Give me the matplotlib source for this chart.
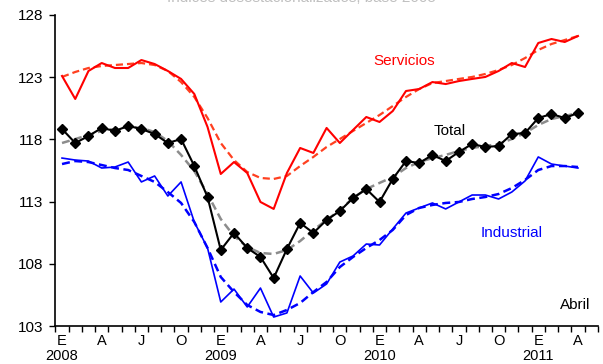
import numpy as np
import matplotlib
matplotlib.use("Agg")
import matplotlib.pyplot as plt

plt.rcParams['font.family'] = ['Liberation Sans', 'DejaVu Sans']

# monthly index, Jan 2008 .. Apr 2011
months = np.arange(40)
month_letters = ['E', 'A', 'J', 'O']
years = ['2008', '2009', '2010', '2011']

total = [118.84, 117.71, 118.27, 118.92, 118.68, 119.08, 118.84, 118.43, 117.71, 118.03,
         115.86, 113.37, 109.11, 110.48, 109.27, 108.55, 106.86, 109.19, 111.28, 110.48,
         111.52, 112.24, 113.29, 114.01, 112.97, 114.82, 116.26, 116.10, 116.75, 116.26,
         116.99, 117.63, 117.39, 117.47, 118.43, 118.51, 119.72, 120.04, 119.72, 120.12]
total_trend = [117.71, 118.03, 118.35, 118.68, 118.84, 119.00, 118.92, 118.59, 117.87, 116.75,
               115.46, 113.61, 111.60, 110.23, 109.35, 108.87, 108.79, 109.11, 109.83, 110.72,
               111.52, 112.32, 113.29, 114.01, 114.50, 114.98, 115.70, 116.18, 116.50, 116.75,
               117.07, 117.31, 117.47, 117.63, 118.03, 118.51, 119.16, 119.64, 119.88, 120.12]

servicios = [123.10, 121.25, 123.50, 124.14, 123.74, 123.74, 124.38, 124.06, 123.50, 122.86,
             121.65, 119.00, 115.22, 116.18, 115.30, 112.97, 112.41, 115.30, 117.31, 116.91,
             118.92, 117.71, 118.76, 119.80, 119.40, 120.28, 121.89, 122.05, 122.61, 122.45,
             122.69, 122.86, 123.02, 123.50, 124.14, 123.82, 125.75, 126.07, 125.83, 126.31]
servicios_trend = [123.02, 123.42, 123.74, 123.90, 123.98, 124.06, 124.14, 123.98, 123.50, 122.61,
                   121.41, 119.72, 117.71, 116.34, 115.38, 114.90, 114.82, 115.06, 115.86, 116.59,
                   117.39, 118.03, 118.68, 119.32, 119.96, 120.68, 121.41, 122.05, 122.53, 122.69,
                   122.86, 123.02, 123.26, 123.58, 123.98, 124.54, 125.19, 125.67, 125.99, 126.31]

industrial = [116.50, 116.34, 116.26, 115.70, 115.78, 116.18, 114.58, 115.06, 113.45, 114.58,
              111.36, 109.27, 104.93, 105.97, 104.53, 106.05, 103.72, 104.05, 107.02, 105.65,
              106.38, 108.14, 108.63, 109.59, 109.51, 110.80, 112.08, 112.49, 112.89, 112.41,
              112.97, 113.53, 113.53, 113.21, 113.77, 114.66, 116.59, 116.02, 115.86, 115.70]
industrial_trend = [116.02, 116.26, 116.18, 115.94, 115.70, 115.54, 115.06, 114.58, 113.77, 112.89,
                    111.36, 109.27, 106.94, 105.73, 104.69, 104.13, 103.88, 104.29, 104.85, 105.73,
                    106.54, 107.74, 108.55, 109.27, 109.91, 110.72, 111.92, 112.49, 112.73, 112.89,
                    112.97, 113.21, 113.37, 113.61, 114.09, 114.74, 115.54, 115.86, 115.86, 115.78]

fig = plt.figure(figsize=(6.03, 3.64), dpi=100)
ax = fig.add_axes([55.4 / 603, 38 / 364, 542.4 / 603, 311 / 364])

dash = (0, (3.2, 1.8))
ax.plot(months, servicios_trend, color='#FF4020', lw=1.6, linestyle=dash, zorder=2)
ax.plot(months, servicios, color='#FF0000', lw=1.5, zorder=3)
ax.plot(months, industrial_trend, color='#0000FF', lw=1.8, linestyle=dash, zorder=2)
ax.plot(months, industrial, color='#0000FF', lw=1.2, zorder=3)
ax.plot(months, total_trend, color='#8C8C8C', lw=1.8, linestyle=dash, zorder=2)
ax.plot(months, total, color='black', lw=1.5, marker='D', markersize=5.5, zorder=4)

ax.set_ylim(103, 128)
ax.set_yticks(np.arange(103, 129, 5))
ax.set_xlim(-0.5, 40.5)

# month letters (with the year under each January), month boundaries as minor ticks
pos = np.arange(0, 40, 3)
labels = []
for p in pos:
    lab = month_letters[(p // 3) % 4]
    if p % 12 == 0:
        lab += '\n' + years[p // 12]
    labels.append(lab)
ax.set_xticks(pos)
ax.set_xticklabels(labels, fontsize=10.5, linespacing=1.12, va='top')
ax.set_xticks(np.arange(-0.5, 41, 1), minor=True)
ax.tick_params(axis='x', which='major', length=0, pad=5.5)
ax.tick_params(axis='x', which='minor', length=4, width=1, direction='out')
ax.tick_params(axis='y', length=4, width=1, direction='out', labelsize=11, pad=5)

for s in ['top', 'right']:
    ax.spines[s].set_visible(False)
ax.spines['left'].set_linewidth(1.2)
ax.spines['bottom'].set_linewidth(1.2)

ax.text(25.85, 124.3, 'Servicios', color='#FF0000', fontsize=11, ha='center', va='center')
ax.text(29.3, 118.68, 'Total', color='black', fontsize=11, ha='center', va='center')
ax.text(34.0, 110.48, 'Industrial', color='#0000FF', fontsize=11, ha='center', va='center')
ax.text(38.8, 104.69, 'Abril', color='black', fontsize=11, ha='center', va='center')

# heading sits almost entirely above the canvas
fig.text(0.5, 1 - 1.5 / 364, 'Índices desestacionalizados, base 2005',
         color='#C0C0C0', fontsize=11, ha='center', va='baseline')

fig.savefig('out.png', dpi=100)
